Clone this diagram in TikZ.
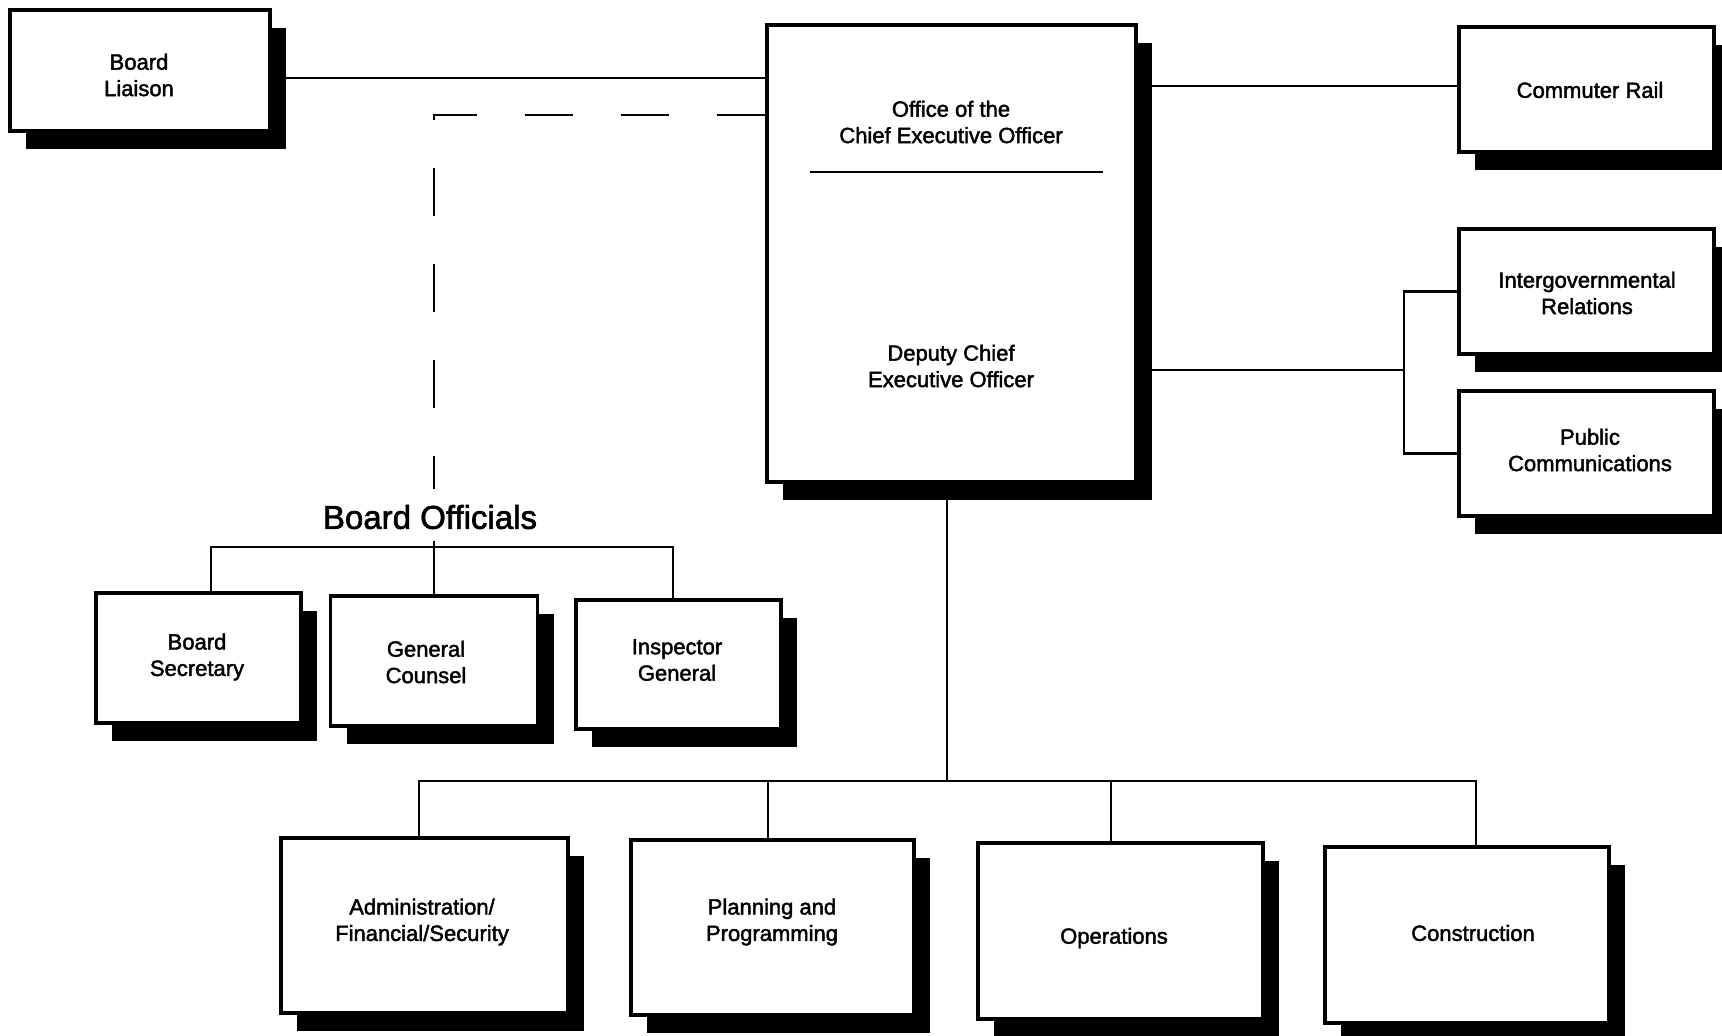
\documentclass[tikz,border=0pt]{standalone}
\usepackage{fontspec}
\setmainfont{Liberation Sans}[FakeBold=2]
\usetikzlibrary{shadows}
\begin{document}
\begin{tikzpicture}[x=0.5pt,y=-0.5pt,
  every node/.style={font=\fontsize{11pt}{13.2pt}\selectfont},
  orgbox/.style={draw, line width=1.7pt, fill=white, inner sep=0pt,
    drop shadow={shadow xshift=8pt, shadow yshift=-9pt, opacity=1, fill=black}},
  boxtext/.style={align=center, inner sep=1pt},
  link/.style={line width=1.4pt},
  dashlink/.style={line width=1.4pt, dash pattern=on 24pt off 24pt},
]
\useasboundingbox (0,0) rectangle (1722,1035);

% boxes
\node[orgbox, minimum width=130pt, minimum height=60.5pt] (liaison) at (140,70.5) {};
\node[orgbox, minimum width=184.5pt, minimum height=228.5pt] (ceo) at (951.5,253.5) {};
\node[orgbox, minimum width=127.5pt, minimum height=62.5pt] (rail) at (1586.5,89.5) {};
\node[orgbox, minimum width=127.5pt, minimum height=62.5pt] (inter) at (1586.5,291.5) {};
\node[orgbox, minimum width=127.5pt, minimum height=62.5pt] (public) at (1586.5,453.5) {};
\node[orgbox, minimum width=102.5pt, minimum height=65pt] (secretary) at (198.5,658) {};
\node[orgbox, minimum width=103.5pt, minimum height=65pt] (counsel) at (434,661) {};
\node[orgbox, minimum width=102.5pt, minimum height=64.5pt] (inspector) at (678.5,664.5) {};
\node[orgbox, minimum width=143.5pt, minimum height=87.5pt] (admin) at (424.5,925.5) {};
\node[orgbox, minimum width=141.5pt, minimum height=87.5pt] (planning) at (772.5,927.5) {};
\node[orgbox, minimum width=142.5pt, minimum height=88pt] (operations) at (1120.5,931) {};
\node[orgbox, minimum width=142pt, minimum height=88pt] (construction) at (1467,935) {};

% box texts
\node[boxtext] (liaisonT) at (139,75) {Board\\Liaison};
\node[boxtext] (railT) at (1590,90) {Commuter Rail};
\node[boxtext] (interT) at (1587,293) {Intergovernmental\\Relations};
\node[boxtext] (publicT) at (1590,450) {Public\\Communications};
\node[boxtext] (secretaryT) at (197,657) {Board\\Secretary};
\node[boxtext] (counselT) at (426,662) {General\\Counsel};
\node[boxtext] (inspectorT) at (677,660) {Inspector\\General};
\node[boxtext] (adminT) at (422,922) {Administration/\\Financial/Security};
\node[boxtext] (planningT) at (772,922) {Planning and\\Programming};
\node[boxtext] (operationsT) at (1114,938) {Operations};
\node[boxtext] (constructionT) at (1473,933) {Construction};

% CEO box contents
\node[boxtext] (ceotop) at (951,122) {Office of the\\Chief Executive Officer};
\node[boxtext] (ceobot) at (951,366) {Deputy Chief\\Executive Officer};
\coordinate (s1) at (810,172);
\coordinate (s2) at (1103,172);
\draw[link] (s1) -- (s2);

% title
\node[font=\fontsize{16.5pt}{18pt}\selectfont] (bo) at (430,517) {Board Officials};

% connectors
\coordinate (ly) at (0,78);
\draw[link] (liaison.east |- ly) -- (ceo.west |- ly);

\coordinate (dcorner) at (434,115);
\coordinate (dend) at (434,489);
\draw[dashlink] (ceo.west |- dcorner) -- (dcorner) -- (dend);

\coordinate (mtop) at (434,541);
\draw[link] (mtop) -- (counsel.north);
\coordinate (bL) at (211,547);
\coordinate (bR) at (673,547);
\draw[link] (secretary.north -| bL) -- (bL) -- (bR) -- (inspector.north -| bR);

\coordinate (ry) at (0,86);
\draw[link] (ceo.east |- ry) -- (rail.west |- ry);
\coordinate (rb) at (1404,370);
\draw[link] (ceo.east |- rb) -- (rb);
\draw[link] (inter.west) -| (rb) |- (public.west);

\coordinate (busC) at (947,781);
\coordinate (busL) at (419,781);
\coordinate (busR) at (1476,781);
\coordinate (d2) at (768,781);
\coordinate (d3) at (1111,781);
\draw[link] (ceo.south -| busC) -- (busC);
\draw[link] (admin.north -| busL) -- (busL) -- (busR) -- (construction.north -| busR);
\draw[link] (d2) -- (planning.north -| d2);
\draw[link] (d3) -- (operations.north -| d3);
\end{tikzpicture}
\end{document}
